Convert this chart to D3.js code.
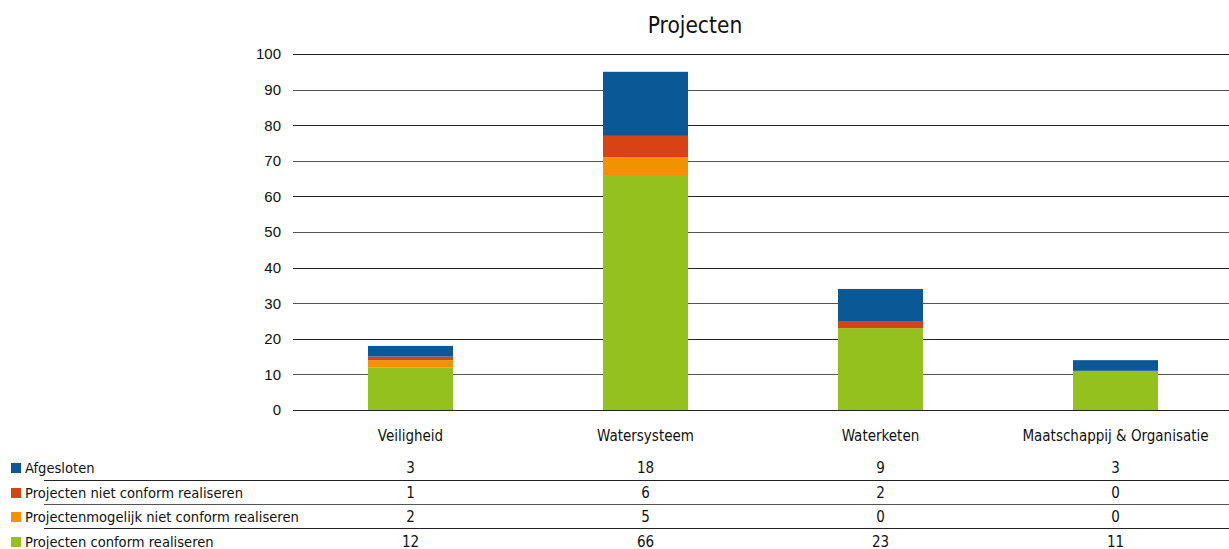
<!DOCTYPE html>
<html><head><meta charset="utf-8">
<script src="https://cdn.jsdelivr.net/npm/d3@7/dist/d3.min.js"></script>
<style>body{margin:0;background:#fff;} svg{display:block;font-family:"DejaVu Sans Condensed","DejaVu Sans",sans-serif;}</style>
</head><body>
<svg id="c" width="1229" height="549"></svg>
<script>
const categories = ["Veiligheid","Watersysteem","Waterketen","Maatschappij & Organisatie"];
const seriesNames = ["Projecten conform realiseren","Projectenmogelijk niet conform realiseren","Projecten niet conform realiseren","Afgesloten"];
const conform = [12,66,23,11];
const mogelijkNiet = [2,5,0,0];
const nietConform = [1,6,2,0];
const afgesloten = [3,18,9,3];
const colors = ["#95c11f","#f39200","#d84315","#0b5896"];
const yTicks = [0,10,20,30,40,50,60,70,80,90,100];

const svg = d3.select("#c");
const x = d3.scaleBand().domain(categories).range([293,1233]).paddingInner(0).paddingOuter(0);
const y = d3.scaleLinear().domain([0,100]).range([410,54]);
const barW = 85;

svg.append("text").attr("x",695).attr("y",33).attr("text-anchor","middle")
  .style("font-size","22.5px").attr("fill","#111").text("Projecten");

// gridlines
svg.append("g").selectAll("line").data(yTicks).join("line")
  .attr("x1",293).attr("x2",1229)
  .attr("y1",d=>Math.round(y(d))+0.5).attr("y2",d=>Math.round(y(d))+0.5)
  .attr("stroke",(d,i)=>i%2?"#555":"#222").attr("stroke-width",1.2);

// y axis labels
const yAxis = d3.axisLeft(y).tickValues(yTicks).tickSize(0).tickPadding(0);
const ga = svg.append("g").attr("transform","translate(281,0)").call(yAxis);
ga.select(".domain").remove();
ga.selectAll("text").style("font-size","15px").attr("fill","#111").attr("font-family","inherit");

// stacked bars
const rows = categories.map((c,i)=>({cat:c, s0:conform[i], s1:mogelijkNiet[i], s2:nietConform[i], s3:afgesloten[i]}));
const stack = d3.stack().keys(["s0","s1","s2","s3"])(rows);
svg.append("g").selectAll("g").data(stack).join("g").attr("fill",(d,i)=>colors[i])
  .selectAll("rect").data(d=>d).join("rect")
  .attr("x",d=>x(d.data.cat)+x.bandwidth()/2-barW/2).attr("width",barW)
  .attr("y",d=>y(d[1])).attr("height",d=>y(d[0])-y(d[1]));

// category labels
svg.append("g").selectAll("text").data(categories).join("text")
  .attr("x",d=>x(d)+x.bandwidth()/2).attr("y",441).attr("text-anchor","middle")
  .style("font-size","15px").attr("fill","#111").text(d=>d);

// data table
const tableRows = [
  {name:"Afgesloten", vals:afgesloten, color:colors[3]},
  {name:"Projecten niet conform realiseren", vals:nietConform, color:colors[2]},
  {name:"Projectenmogelijk niet conform realiseren", vals:mogelijkNiet, color:colors[1]},
  {name:"Projecten conform realiseren", vals:conform, color:colors[0]}
];
const rowY = [473,498,522,547];
const rowLines = [480.5,504.5,528.5];
svg.append("g").selectAll("line").data(rowLines).join("line")
  .attr("x1",44).attr("x2",1229).attr("y1",d=>d).attr("y2",d=>d)
  .attr("stroke",(d,i)=>i===1?"#555":"#222").attr("stroke-width",1.2);
const tr = svg.append("g").selectAll("g").data(tableRows).join("g");
tr.append("rect").attr("x",11).attr("y",(d,i)=>rowY[i]-10).attr("width",10).attr("height",10).attr("fill",d=>d.color);
tr.append("text").attr("x",25).attr("y",(d,i)=>rowY[i]).style("font-size","14.6px").attr("fill","#111").text(d=>d.name);
tr.each(function(d,i){
  d3.select(this).selectAll("text.v").data(d.vals).join("text").attr("class","v")
    .attr("x",(v,j)=>x(categories[j])+x.bandwidth()/2).attr("y",rowY[i]).attr("text-anchor","middle")
    .style("font-size","15px").attr("fill","#111").text(v=>v);
});
</script>
</body></html>
